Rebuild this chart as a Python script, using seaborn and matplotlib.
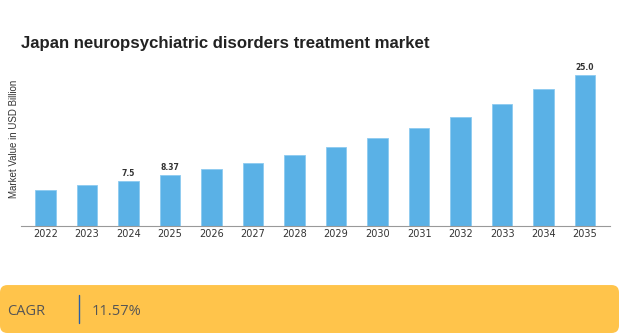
import matplotlib
matplotlib.use("Agg")
import matplotlib.pyplot as plt
from matplotlib.patches import FancyBboxPatch
import seaborn as sns
import pandas as pd

years = ["2022", "2023", "2024", "2025", "2026", "2027", "2028", "2029",
         "2030", "2031", "2032", "2033", "2034", "2035"]
values = [6.0, 6.7, 7.5, 8.37, 9.36, 10.4, 11.67, 13.0, 14.47, 16.2, 18.0, 20.2, 22.6, 25.0]
labels = {"2024": "7.5", "2025": "8.37", "2035": "25.0"}
title = "Japan neuropsychiatric disorders treatment market"
ylabel = "Market Value in USD Billion"
cagr_label = "CAGR"
cagr_value = "11.57%"

df = pd.DataFrame({"year": years, "value": values})

sns.set_theme(style="white")
plt.rcParams["font.family"] = ["Liberation Sans", "DejaVu Sans"]

fig = plt.figure(figsize=(6.19, 3.33), dpi=100)
ax = fig.add_axes([0.0334, 0.3213, 0.9521, 0.4985])

sns.barplot(data=df, x="year", y="value", color="#5AB1E6", width=0.5,
            saturation=1, ax=ax, edgecolor="#8CCBF0", linewidth=0.6)

ax.set_xlim(-0.6, 13.6)
ax.set_ylim(0, 27.4)
ax.set_yticks([])
ax.set_xlabel("")
ax.set_ylabel("")
for s in ["top", "right", "left"]:
    ax.spines[s].set_visible(False)
ax.spines["bottom"].set_color("#999999")
ax.spines["bottom"].set_linewidth(0.8)
ax.tick_params(axis="x", length=0, pad=2, labelsize=7, labelcolor="#333333")
for t in ax.get_xticklabels():
    t.set_family(["DejaVu Sans"])

for i, (y, v) in enumerate(zip(years, values)):
    if y in labels:
        ax.text(i, v + 0.5, labels[y], ha="center", va="bottom",
                fontsize=5.5, fontweight="bold", color="#333333",
                family=["DejaVu Sans"])

fig.text(0.034, 0.87, title, fontsize=12.1, fontweight="bold",
         color="#222222", ha="left", va="center")
fig.text(0.022, 0.583, ylabel, fontsize=7, rotation=90, color="#333333",
         ha="center", va="center")

# CAGR band
band = FancyBboxPatch((0.0, 0.0), 1.0, 0.144,
                      boxstyle="round,pad=0,rounding_size=0.012",
                      transform=fig.transFigure, facecolor="#FFC44B",
                      edgecolor="none", mutation_aspect=619/333)
fig.patches.append(band)
fig.text(0.012, 0.066, cagr_label, fontsize=10.5, color="#555555",
         ha="left", va="center", family=["Open Sans", "DejaVu Sans"])
fig.add_artist(plt.Line2D([0.1276, 0.1276], [0.03, 0.114],
                          transform=fig.transFigure, color="#2B5FA8", lw=1))
fig.text(0.148, 0.066, cagr_value, fontsize=10.5, color="#555555",
         ha="left", va="center", family=["Open Sans", "DejaVu Sans"])

fig.savefig("out.png", dpi=100, facecolor="white")
